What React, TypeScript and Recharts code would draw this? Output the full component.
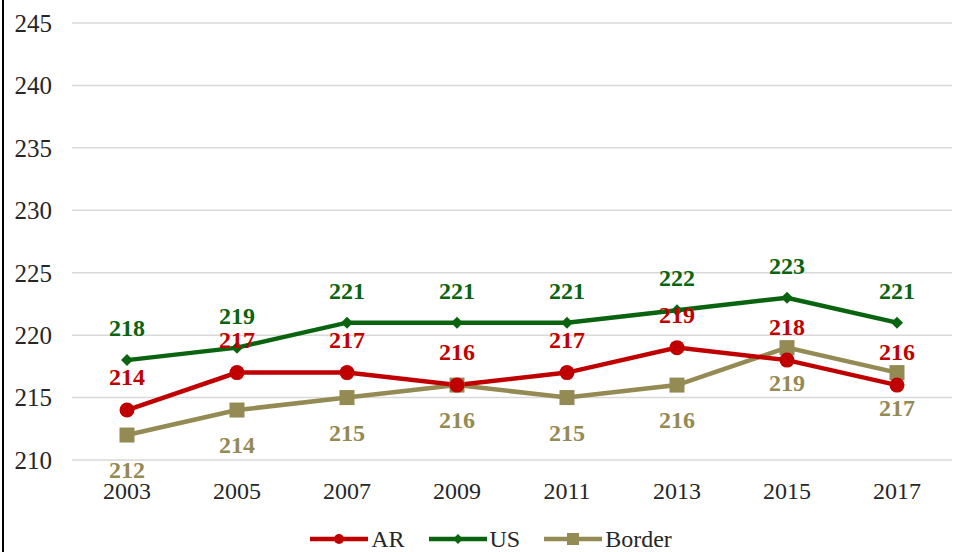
import { LineChart, Line, XAxis, YAxis, CartesianGrid, Legend, LabelList } from "recharts";

const years = ["2003", "2005", "2007", "2009", "2011", "2013", "2015", "2017"];
const arScores = [214, 217, 217, 216, 217, 219, 218, 216];
const usScores = [218, 219, 221, 221, 221, 222, 223, 221];
const borderScores = [212, 214, 215, 216, 215, 216, 219, 217];
const yTicks = [210, 215, 220, 225, 230, 235, 240, 245];

const FONT = "'Liberation Serif', 'Times New Roman', serif";
const AR_COLOR = "#C00000";
const US_COLOR = "#0A640F";
const BORDER_COLOR = "#948A54";

const data = years.map((year, i) => ({
  year,
  ar: arScores[i],
  us: usScores[i],
  border: borderScores[i],
}));

// diamond marker for the US series
function Diamond(props: any) {
  const { cx, cy, size = 6, fill } = props;
  if (cx == null || cy == null) return null;
  return (
    <path
      d={`M${cx},${cy - size} L${cx + size},${cy} L${cx},${cy + size} L${cx - size},${cy} Z`}
      fill={fill}
    />
  );
}

function SquareDot(props: any) {
  const { cx, cy, size = 7.5, fill } = props;
  if (cx == null || cy == null) return null;
  return <rect x={cx - size} y={cy - size} width={size * 2} height={size * 2} fill={fill} />;
}

function LegendIcon({ kind, color }: { kind: string; color: string }) {
  return (
    <svg width={58} height={16} style={{ display: "block" }}>
      <line x1={0} y1={8} x2={58} y2={8} stroke={color} strokeWidth={4.5} strokeLinecap="round" />
      {kind === "circle" && <circle cx={29} cy={8} r={5} fill={color} />}
      {kind === "diamond" && <path d="M29,3 L34,8 L29,13 L24,8 Z" fill={color} />}
      {kind === "square" && <rect x={23} y={2} width={12} height={12} fill={color} />}
    </svg>
  );
}

const legendItems = [
  { name: "AR", kind: "circle", color: AR_COLOR },
  { name: "US", kind: "diamond", color: US_COLOR },
  { name: "Border", kind: "square", color: BORDER_COLOR },
];

function ChartLegend() {
  return (
    <div
      style={{
        display: "flex",
        justifyContent: "center",
        alignItems: "center",
        boxSizing: "border-box",
        paddingLeft: 24,
        paddingTop: 26,
        fontFamily: FONT,
        fontSize: 24,
        color: "#262626",
        height: 52,
      }}
    >
      {legendItems.map((item, i) => (
        <div
          key={item.name}
          style={{ display: "flex", alignItems: "center", marginLeft: i === 0 ? 0 : 24 }}
        >
          <LegendIcon kind={item.kind} color={item.color} />
          <span style={{ marginLeft: 3, lineHeight: "24px" }}>{item.name}</span>
        </div>
      ))}
    </div>
  );
}

const labelStyle = { fontFamily: FONT, fontSize: 24, fontWeight: "bold" as const };

export default function App() {
  return (
    <div style={{ position: "absolute", left: 0, top: 0, width: 958, height: 552, background: "#fff" }}>
      <LineChart width={958} height={552} data={data} margin={{ top: 23, right: 6, left: 0, bottom: 0 }}>
        <CartesianGrid vertical={false} stroke="#d9d9d9" strokeWidth={1.5} />
        <XAxis
          dataKey="year"
          axisLine={false}
          tickLine={false}
          padding={{ left: 55, right: 55 }}
          height={40}
          tickMargin={16}
          tick={{ fontFamily: FONT, fontSize: 24, fill: "#262626" }}
        />
        <YAxis
          domain={[210, 245]}
          ticks={yTicks}
          axisLine={false}
          tickLine={false}
          width={72}
          tickMargin={14}
          tick={{ fontFamily: FONT, fontSize: 25, fill: "#262626" }}
        />
        <Legend
          verticalAlign="bottom"
          height={52}
          content={() => <ChartLegend />}
          wrapperStyle={{ left: 0, width: 958, bottom: 0 }}
        />
        <Line
          dataKey="border"
          name="Border"
          stroke={BORDER_COLOR}
          strokeWidth={4.5}
          dot={<SquareDot fill={BORDER_COLOR} />}
          isAnimationActive={false}
        >
          <LabelList dataKey="border" position="bottom" offset={26} fill={BORDER_COLOR} style={labelStyle} />
        </Line>
        <Line
          dataKey="ar"
          name="AR"
          stroke={AR_COLOR}
          strokeWidth={4.5}
          dot={{ r: 7.5, fill: AR_COLOR, stroke: AR_COLOR, strokeWidth: 0 }}
          isAnimationActive={false}
        >
          <LabelList dataKey="ar" position="top" offset={25} fill={AR_COLOR} style={labelStyle} />
        </Line>
        <Line
          dataKey="us"
          name="US"
          stroke={US_COLOR}
          strokeWidth={4.5}
          dot={<Diamond fill={US_COLOR} />}
          isAnimationActive={false}
        >
          <LabelList dataKey="us" position="top" offset={24} fill={US_COLOR} style={labelStyle} />
        </Line>
      </LineChart>
      <div style={{ position: "absolute", left: 2, top: 0, width: 2, height: 552, background: "#000" }} />
    </div>
  );
}
